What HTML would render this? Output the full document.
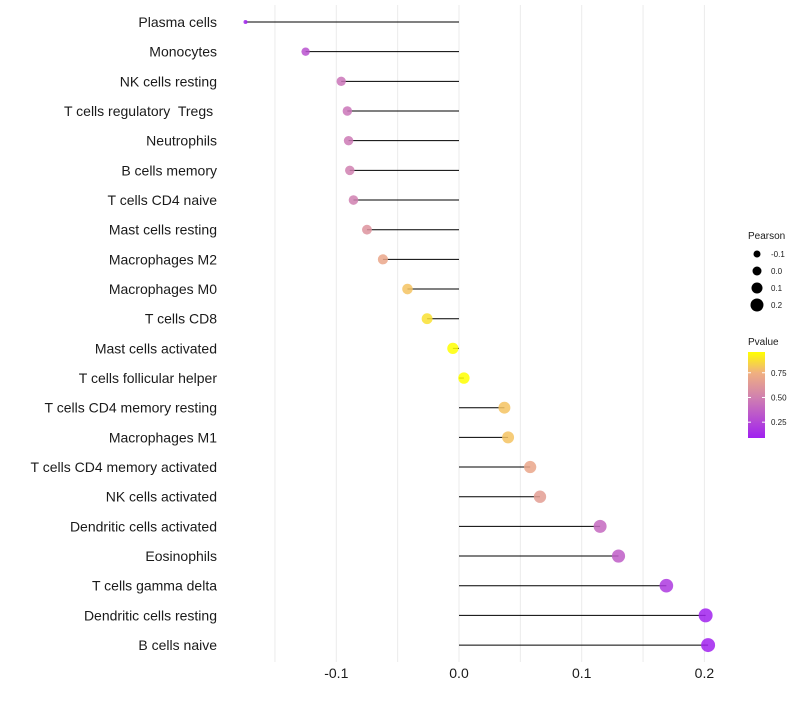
<!DOCTYPE html>
<html><head><meta charset="utf-8"><style>
body{margin:0;background:#fff;font-family:"Liberation Sans",sans-serif}
svg text{font-family:"Liberation Sans",sans-serif;white-space:pre}
</style></head><body>
<svg id="chart" width="800" height="700"></svg>
<script>
const categories=["Plasma cells","Monocytes","NK cells resting","T cells regulatory  Tregs ","Neutrophils","B cells memory","T cells CD4 naive","Mast cells resting","Macrophages M2","Macrophages M0","T cells CD8","Mast cells activated","T cells follicular helper","T cells CD4 memory resting","Macrophages M1","T cells CD4 memory activated","NK cells activated","Dendritic cells activated","Eosinophils","T cells gamma delta","Dendritic cells resting","B cells naive"];
const pearson=[-0.174,-0.125,-0.096,-0.091,-0.090,-0.089,-0.086,-0.075,-0.062,-0.042,-0.026,-0.005,0.004,0.037,0.040,0.058,0.066,0.115,0.130,0.169,0.201,0.203];
const pvalue=[0.1,0.3,0.45,0.45,0.47,0.5,0.5,0.6,0.7,0.8,0.88,0.97,0.98,0.8,0.8,0.7,0.65,0.4,0.35,0.2,0.1,0.1];
const xTicks=[-0.1,0.0,0.1,0.2];
const xTickLabels=["-0.1","0.0","0.1","0.2"];
const minorTicks=[-0.15,-0.05,0.05,0.15];
const sizeLegend=[-0.1,0.0,0.1,0.2];
const pLegendTicks=[0.25,0.5,0.75];

const NS="http://www.w3.org/2000/svg";
const svg=document.getElementById('chart');
function mk(t,a,p){const e=document.createElementNS(NS,t);for(const k in a)e.setAttribute(k,a[k]);(p||svg).appendChild(e);return e;}
const x=v=>459+v*1227;
const y=i=>22+i*29.67;
const r=v=>2+5*Math.pow(Math.max(0,(v+0.174)/0.377),0.4);
const stops=[[0.09,[160,32,240]],[0.5,[208,128,176]],[0.75,[240,176,128]],[0.96,[255,255,0]]];
function col(p){if(p<=stops[0][0])return 'rgb('+stops[0][1]+')';for(let i=1;i<stops.length;i++){if(p<=stops[i][0]){const t=(p-stops[i-1][0])/(stops[i][0]-stops[i-1][0]);const a=stops[i-1][1],b=stops[i][1];return 'rgb('+a.map((c,j)=>Math.round(c+(b[j]-c)*t)).join(',')+')';}}return 'rgb(255,255,0)';}

const grid=mk('g',{});


minorTicks.concat(xTicks).forEach(v=>{mk('line',{x1:x(v),x2:x(v),y1:5,y2:662,stroke:'#ebebeb','stroke-width':1},grid);});

categories.forEach((c,i)=>{
  const t=mk('text',{x:217,y:y(i)+5,'text-anchor':'end','font-size':14,fill:'#1a1a1a'});
  t.textContent=c;
  
  
  const l=mk('line',{x1:x(0),x2:x(pearson[i]),y1:y(i),y2:y(i),stroke:'#000','stroke-width':1});
  
  
  const d=mk('circle',{cx:x(pearson[i]),cy:y(i),r:r(pearson[i]),fill:col(pvalue[i]),'fill-opacity':0.85});
  
  
});
xTicks.forEach((v,i)=>{
  const t=mk('text',{x:x(v),y:678,'text-anchor':'middle','font-size':14,fill:'#1a1a1a'});
  t.textContent=xTickLabels[i];
  
  
});
const lg=mk('g',{});


const pt=mk('text',{x:748,y:239,'font-size':10,fill:'#1a1a1a'},lg);pt.textContent='Pearson';
sizeLegend.forEach((v,i)=>{
  const cy=254+i*17;
  const c=mk('circle',{cx:757,cy:cy,r:3.5+i*1,fill:'#000'},lg);
  
  
  const t=mk('text',{x:771,y:cy+3,'font-size':8,fill:'#1a1a1a'},lg);t.textContent=xTickLabels[i];
});
const vt=mk('text',{x:748,y:345,'font-size':10,fill:'#1a1a1a'},lg);vt.textContent='Pvalue';
const defs=mk('defs',{});
const gr=mk('linearGradient',{id:'pg',x1:0,y1:1,x2:0,y2:0},defs);
stops.forEach(s=>{mk('stop',{offset:(s[0]-0.09)/0.87,'stop-color':'rgb('+s[1]+')'},gr);});
const bar=mk('rect',{x:748,y:352,width:17,height:86,fill:'url(#pg)'},lg);


const py=p=>438-(p-0.09)/0.87*86;
pLegendTicks.forEach(p=>{
  mk('line',{x1:748,x2:751,y1:py(p),y2:py(p),stroke:'#fff'},lg);
  mk('line',{x1:762,x2:765,y1:py(p),y2:py(p),stroke:'#fff'},lg);
  const t=mk('text',{x:771,y:py(p)+3,'font-size':8,fill:'#1a1a1a'},lg);t.textContent=p.toFixed(2);
});
</script>
</body></html>
